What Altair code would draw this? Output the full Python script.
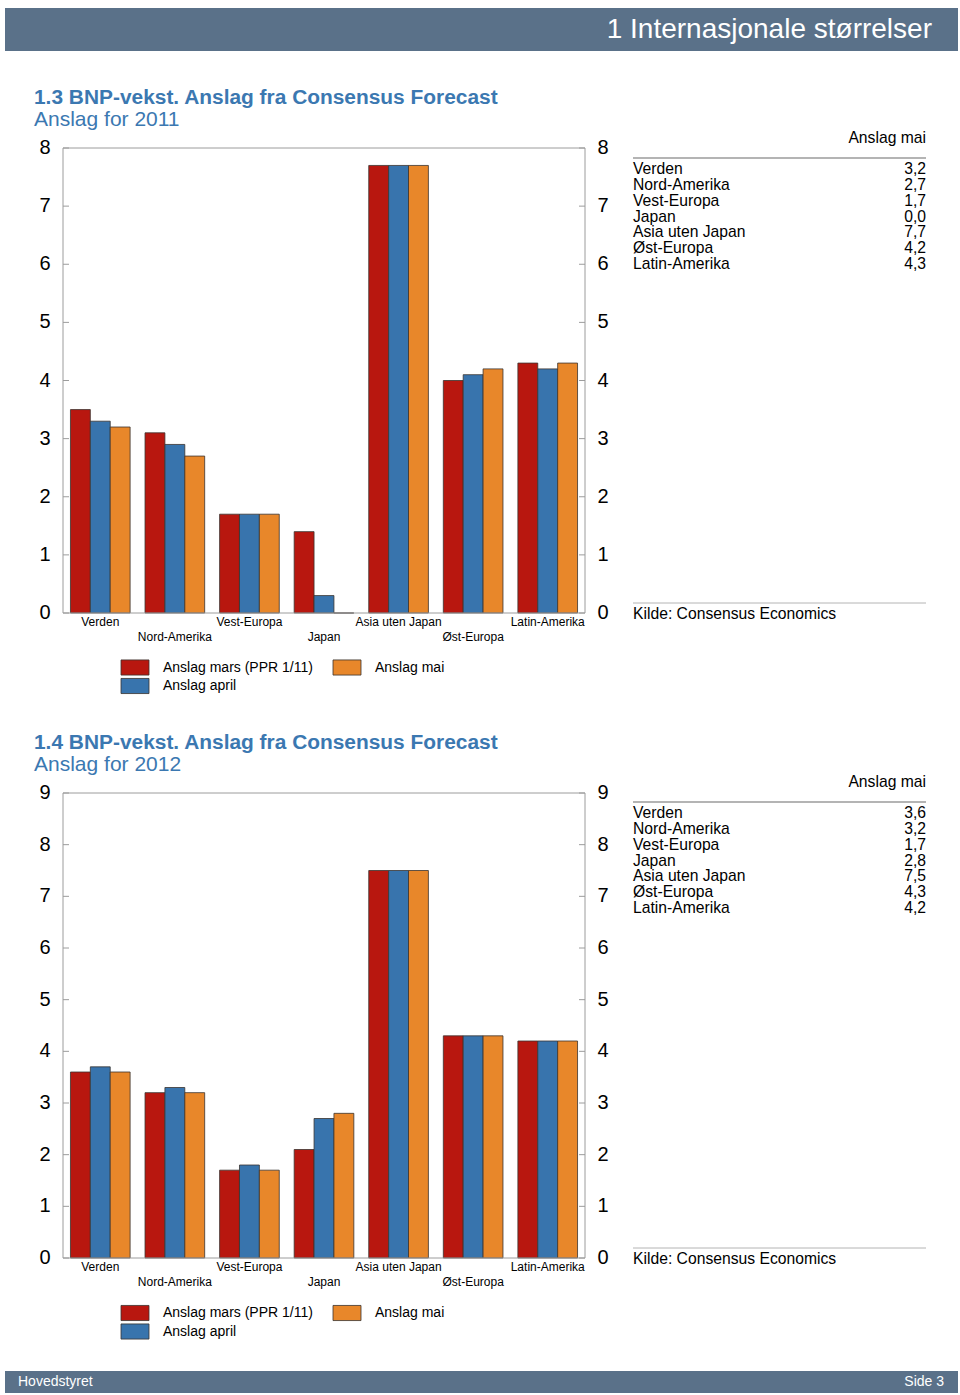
import altair as alt
import pandas as pd

FONT = "Arial"
HEADER_BLUE = "#5a7189"
TITLE_BLUE = "#3b78b1"
FRAME = "#9c9c9c"

categories = ["Verden", "Nord-Amerika", "Vest-Europa", "Japan",
              "Asia uten Japan", "Øst-Europa", "Latin-Amerika"]
series = ["Anslag mars (PPR 1/11)", "Anslag april", "Anslag mai"]
colors = ["#b8170f", "#3874ad", "#e8872a"]

mars_2011 = [3.5, 3.1, 1.7, 1.4, 7.7, 4.0, 4.3]
april_2011 = [3.3, 2.9, 1.7, 0.3, 7.7, 4.1, 4.2]
mai_2011 = [3.2, 2.7, 1.7, 0.0, 7.7, 4.2, 4.3]

mars_2012 = [3.6, 3.2, 1.7, 2.1, 7.5, 4.3, 4.2]
april_2012 = [3.7, 3.3, 1.8, 2.7, 7.5, 4.3, 4.2]
mai_2012 = [3.6, 3.2, 1.7, 2.8, 7.5, 4.3, 4.2]

ticks_2011 = [0, 1, 2, 3, 4, 5, 6, 7, 8]
ticks_2012 = [0, 1, 2, 3, 4, 5, 6, 7, 8, 9]

X0, X1 = 63, 585
TABLE_FS = 15.7


def one(**kw):
    return alt.Chart(pd.DataFrame({"a": [0]}))


def text(s, x, y, size, color="black", align="left", weight="normal"):
    return one().mark_text(text=s, font=FONT, fontSize=size, color=color, align=align,
                           baseline="middle", fontWeight=weight).encode(
        x=alt.value(x), y=alt.value(y))


def section(vals, ticks, top, bottom):
    rows = []
    for s, v in zip(series, vals):
        for c, val in zip(categories, v):
            rows.append({"cat": c, "series": s, "value": val})
    df = pd.DataFrame(rows)
    ymax = ticks[-1]
    ysc = alt.Scale(domain=[0, ymax], range=[bottom, top], nice=False, zero=True)
    xsc = alt.Scale(domain=categories, range=[X0, X1], paddingInner=0.2, paddingOuter=0.1)

    bars = alt.Chart(df).mark_bar(stroke="#3a3330", strokeWidth=0.8).encode(
        x=alt.X("cat:N", scale=xsc, axis=None, sort=categories),
        xOffset=alt.XOffset("series:N", scale=alt.Scale(domain=series, paddingInner=0, paddingOuter=0), sort=series),
        y=alt.Y("value:Q", scale=ysc, axis=None),
        fill=alt.Fill("series:N", scale=alt.Scale(domain=series, range=colors), legend=None),
    )
    tdf = pd.DataFrame({"t": ticks})
    frame = one().mark_rect(fillOpacity=0, stroke=FRAME, strokeWidth=1).encode(
        x=alt.value(X0), x2=alt.value(X1),
        y=alt.Y(datum=0, scale=ysc, axis=None), y2=alt.Y2(datum=ymax))
    lt = alt.Chart(tdf).mark_rule(color=FRAME).encode(
        y=alt.Y("t:Q", scale=ysc, axis=None), x=alt.value(X0), x2=alt.value(X0 + 6))
    rt = alt.Chart(tdf).mark_rule(color=FRAME).encode(
        y=alt.Y("t:Q", scale=ysc, axis=None), x=alt.value(X1 - 6), x2=alt.value(X1))
    ll = alt.Chart(tdf).mark_text(font=FONT, fontSize=20, baseline="middle").encode(
        y=alt.Y("t:Q", scale=ysc, axis=None), x=alt.value(45), text="t:Q")
    rl = alt.Chart(tdf).mark_text(font=FONT, fontSize=20, baseline="middle").encode(
        y=alt.Y("t:Q", scale=ysc, axis=None), x=alt.value(603), text="t:Q")
    cdf = pd.DataFrame({"cat": categories, "row": [i % 2 for i in range(len(categories))]})
    xl1 = alt.Chart(cdf).transform_filter("datum.row == 0").mark_text(
        font=FONT, fontSize=12, baseline="middle").encode(
        x=alt.X("cat:N", scale=xsc, axis=None, sort=categories), y=alt.value(bottom + 8.5), text="cat:N")
    xl2 = alt.Chart(cdf).transform_filter("datum.row == 1").mark_text(
        font=FONT, fontSize=12, baseline="middle").encode(
        x=alt.X("cat:N", scale=xsc, axis=None, sort=categories), y=alt.value(bottom + 24), text="cat:N")
    return alt.layer(bars, frame, lt, rt, ll, rl, xl1, xl2)


def table(mai, head_y, first_y, last_y, kilde_y):
    tdf = pd.DataFrame({"name": categories,
                        "val": [f"{v:.1f}".replace(".", ",") for v in mai],
                        "i": list(range(len(categories)))})
    ysc = alt.Scale(type="point", domain=list(range(len(categories))), range=[first_y, last_y], padding=0)
    names = alt.Chart(tdf).mark_text(font=FONT, fontSize=TABLE_FS, align="left", baseline="middle").encode(
        x=alt.value(633), y=alt.Y("i:O", scale=ysc, axis=None), text="name:N")
    values = alt.Chart(tdf).mark_text(font=FONT, fontSize=TABLE_FS, align="right", baseline="middle").encode(
        x=alt.value(926), y=alt.Y("i:O", scale=ysc, axis=None), text="val:N")
    head = text("Anslag mai", 926, head_y, TABLE_FS, align="right")
    line = one().mark_rule(color="#b4b4b4", strokeWidth=2).encode(
        x=alt.value(633), x2=alt.value(926), y=alt.value(head_y + 20))
    kline = one().mark_rule(color="#b4b4b4", strokeWidth=1).encode(
        x=alt.value(633), x2=alt.value(926), y=alt.value(kilde_y - 10))
    kilde = text("Kilde: Consensus Economics", 633, kilde_y + 0.5, TABLE_FS)
    return [names, values, head, line, kline, kilde]


def legend(y1, y2):
    ldf = pd.DataFrame({"series": series, "col": [0, 0, 1], "row": [0, 1, 0]})
    xsc = alt.Scale(type="point", domain=[0, 1], range=[135, 347], padding=0)
    ysc = alt.Scale(type="point", domain=[0, 1], range=[y1, y2], padding=0)
    sw = alt.Chart(ldf).mark_point(shape="M-1,-0.54H1V0.54H-1Z", size=784, filled=True, opacity=1,
                                   stroke="#3a3330", strokeWidth=0.8).encode(
        x=alt.X("col:O", scale=xsc, axis=None), y=alt.Y("row:O", scale=ysc, axis=None),
        fill=alt.Fill("series:N", scale=alt.Scale(domain=series, range=colors), legend=None))
    tx = alt.Chart(ldf).mark_text(font=FONT, fontSize=14, align="left", baseline="middle", dx=28).encode(
        x=alt.X("col:O", scale=xsc, axis=None), y=alt.Y("row:O", scale=ysc, axis=None), text="series:N")
    return [sw, tx]


header = one().mark_rect(color=HEADER_BLUE).encode(
    x=alt.value(5), x2=alt.value(958), y=alt.value(8), y2=alt.value(51))
header_t = text("1 Internasjonale størrelser", 932, 30, 28, color="white", align="right")
footer = one().mark_rect(color=HEADER_BLUE).encode(
    x=alt.value(5), x2=alt.value(958), y=alt.value(1371), y2=alt.value(1393))
footer_l = text("Hovedstyret", 18, 1382, 14, color="white")
footer_r = text("Side 3", 944, 1382, 14, color="white", align="right")

t1 = text("1.3 BNP-vekst. Anslag fra Consensus Forecast", 34, 97.5, 20.9, color=TITLE_BLUE, weight="bold")
s1 = text("Anslag for 2011", 34, 119.5, 21, color=TITLE_BLUE)
t2 = text("1.4 BNP-vekst. Anslag fra Consensus Forecast", 34, 742.5, 20.9, color=TITLE_BLUE, weight="bold")
s2 = text("Anslag for 2012", 34, 764.5, 21, color=TITLE_BLUE)

sec1 = section([mars_2011, april_2011, mai_2011], ticks_2011, 148, 613)
sec2 = section([mars_2012, april_2012, mai_2012], ticks_2012, 793, 1258)

layers = [header, header_t, footer, footer_l, footer_r, t1, s1, t2, s2, sec1, sec2]
layers += table(mai_2011, 138, 169, 264, 613)
layers += table(mai_2012, 782, 813, 908, 1258)
layers += legend(667.5, 686)
layers += legend(1313, 1331.5)

chart = alt.layer(*layers).resolve_scale(
    x="independent", y="independent", fill="independent", xOffset="independent"
).properties(
    width=960, height=1395, autosize=alt.AutoSizeParams(type="none"), padding=0, background="white"
).configure_view(stroke=None)

chart.save("out.html", embed_options={"renderer": "svg", "actions": False})
